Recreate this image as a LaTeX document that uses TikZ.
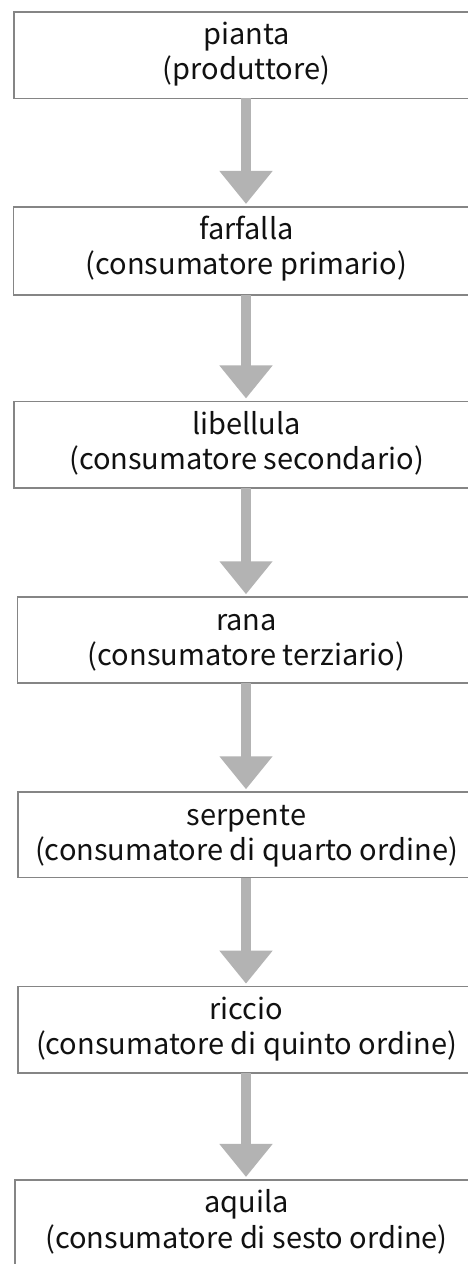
\documentclass[tikz,border=0pt]{standalone}
\usepackage{fontspec}
\setmainfont{Noto Sans CJK JP}
\usetikzlibrary{arrows.meta,calc}
\definecolor{boxline}{HTML}{858585}
\definecolor{arrowgray}{HTML}{B3B3B3}
\definecolor{txt}{HTML}{111111}
\tikzset{
  box/.style={draw=boxline, line width=1.6pt, fill=white, inner sep=0pt, outer sep=0pt, rectangle},
  lbl/.style={anchor=base, align=center, inner sep=0pt, text=txt, font=\fontsize{29}{35}\selectfont},
  flow/.style={draw=arrowgray, line width=10.7pt, -{Triangle[length=33pt,width=51pt]}, shorten >=3pt}
}
\begin{document}
\begin{tikzpicture}[x=1pt,y=1pt]
\useasboundingbox (0,0) rectangle (468,1264);
\fill[white] (0,0) rectangle (468,1264);
\clip (0,0) rectangle (468,1264);
\node[box, minimum width=464pt, minimum height=86.5pt] (b1) at (246,1208.75) {};
\node[box, minimum width=465pt, minimum height=88pt] (b2) at (246,1013) {};
\node[box, minimum width=464pt, minimum height=86.8pt] (b3) at (246,819.1) {};
\node[box, minimum width=457.4pt, minimum height=85.7pt] (b4) at (246,623.85) {};
\node[box, minimum width=456pt, minimum height=85.4pt] (b5) at (246,429) {};
\node[box, minimum width=456pt, minimum height=86.6pt] (b6) at (246,234) {};
\node[box, minimum width=462pt, minimum height=87pt] (b7) at (246,40.5) {};
\node[lbl] (t1) at ($(b1.north)+(0.5,-68)$) {pianta\\(produttore)};
\node[lbl] (t2) at ($(b2.north)+(0.5,-68)$) {farfalla\\(consumatore primario)};
\node[lbl] (t3) at ($(b3.north)+(0.5,-68)$) {libellula\\(consumatore secondario)};
\node[lbl] (t4) at ($(b4.north)+(0.5,-68)$) {rana\\(consumatore terziario)};
\node[lbl] (t5) at ($(b5.north)+(0.5,-68)$) {serpente\\(consumatore di quarto ordine)};
\node[lbl] (t6) at ($(b6.north)+(0.5,-68)$) {riccio\\(consumatore di quinto ordine)};
\node[lbl] (t7) at ($(b7.north)+(0.5,-68)$) {aquila\\(consumatore di sesto ordine)};
\draw[flow] (b1.south) -- (b2.north);
\draw[flow] (b2.south) -- (b3.north);
\draw[flow] (b3.south) -- (b4.north);
\draw[flow] (b4.south) -- (b5.north);
\draw[flow] (b5.south) -- (b6.north);
\draw[flow] (b6.south) -- (b7.north);
\end{tikzpicture}
\end{document}
